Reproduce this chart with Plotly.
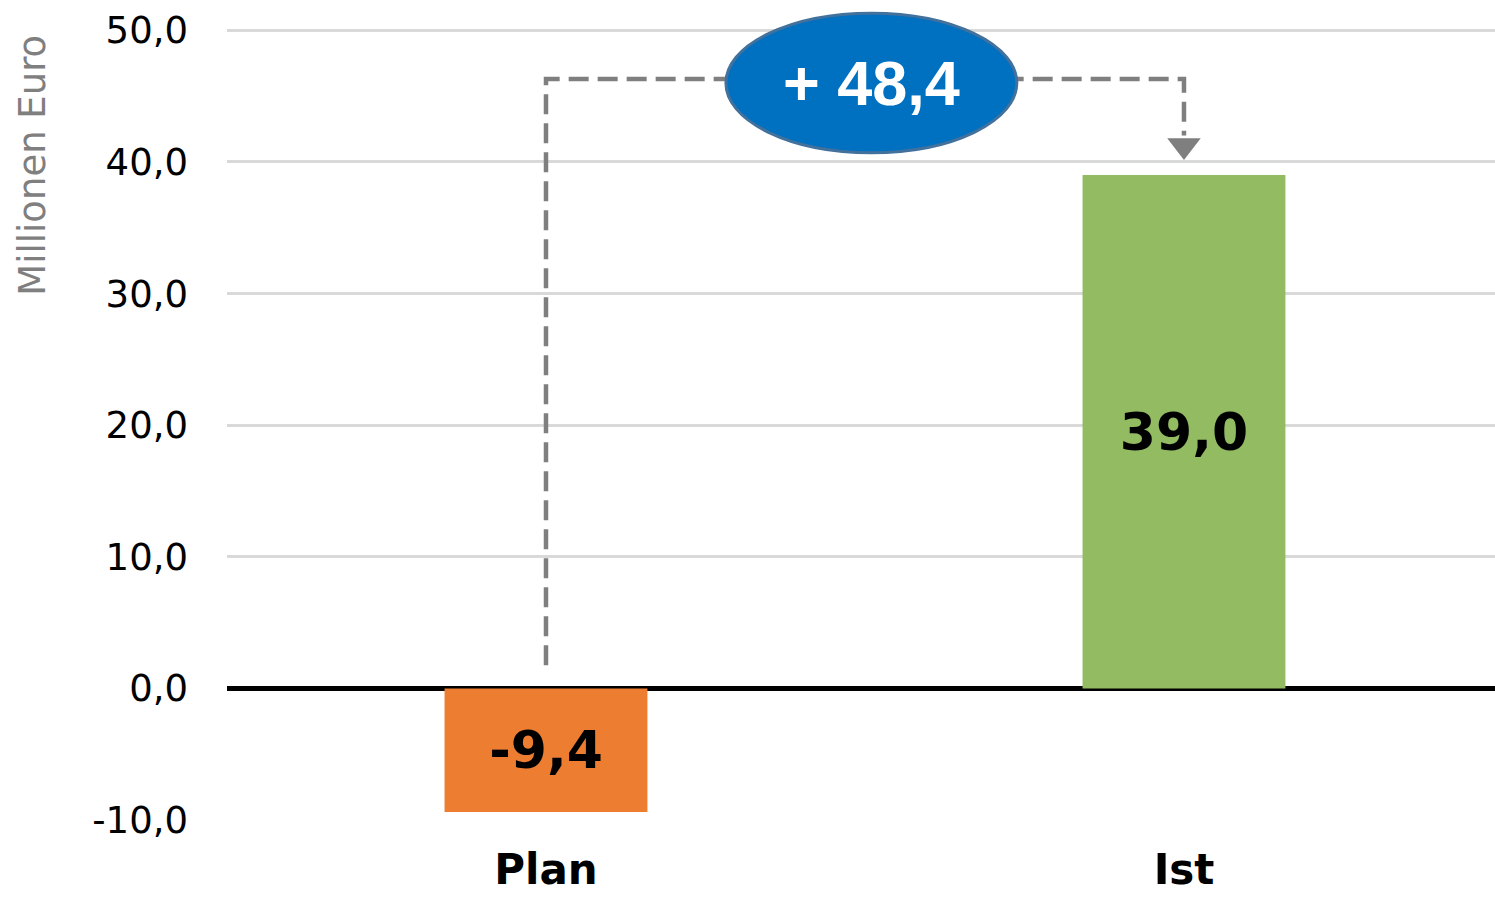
import plotly.graph_objects as go

categories = ["Plan", "Ist"]
values = [-9.4, 39.0]
bar_colors = ["#ED7D31", "#92BB62"]
y_tickvals = [-10, 0, 10, 20, 30, 40, 50]
y_ticktext = ["-10,0", "0,0", "10,0", "20,0", "30,0", "40,0", "50,0"]
y_title = "Millionen Euro"

def de(v):
    return f"{v:.1f}".replace(".", ",")

diff = values[1] - values[0]
bar_labels = [de(v) for v in values]
diff_label = f"+ {de(diff)}"

fig = go.Figure()
fig.add_trace(go.Bar(
    x=categories, y=values, width=0.318,
    marker=dict(color=bar_colors, line=dict(width=0)),
    text=bar_labels, textposition="inside", insidetextanchor="middle",
    textfont=dict(family="DejaVu Sans", size=52, color="black", weight="bold"),
    textangle=0, cliponaxis=False, showlegend=False, hoverinfo="skip",
))

# connector (dashed) from Plan to Ist
top = max(values) + 7.3
start = 1.75
fig.add_trace(go.Scatter(
    x=[categories[0], categories[0], categories[1], categories[1]],
    y=[start, top, top, values[1] + 3.0],
    mode="lines", line=dict(color="#7F7F7F", width=4.5, dash="20px,9px"),
    showlegend=False, hoverinfo="skip",
))
fig.add_trace(go.Scatter(
    x=[categories[1]], y=[values[1] + 2.25],
    mode="markers", marker=dict(symbol="triangle-down", size=29, color="#7F7F7F",
                                line=dict(width=0)),
    showlegend=False, hoverinfo="skip", cliponaxis=False,
))

# ellipse with difference
cx = 0.51
fig.add_shape(type="circle", xref="x", yref="y",
              x0=cx - 0.228, x1=cx + 0.228, y0=top - 5.6, y1=top + 5.0,
              fillcolor="#0070C0", line=dict(color="#41719C", width=3), layer="above")
fig.add_annotation(x=cx, y=top - 0.3, xref="x", yref="y", text=f"<b>{diff_label}</b>",
                   showarrow=False, xanchor="center", yanchor="middle",
                   font=dict(family="Liberation Sans, Arial", size=63, color="white"))

fig.add_annotation(x=-0.153, y=0.803, xref="paper", yref="paper", text=y_title, textangle=-90,
                   showarrow=False, xanchor="center", yanchor="middle",
                   font=dict(family="DejaVu Sans", size=37, color="#7F7F7F"))

fig.update_layout(
    width=1495, height=897,
    margin=dict(l=227, r=0, t=4, b=77),
    paper_bgcolor="white", plot_bgcolor="white",
    bargap=0.68,
    xaxis=dict(range=[-0.5, 1.4875], showgrid=False, showline=False, ticks="",
               automargin=False,
               tickfont=dict(family="DejaVu Sans", size=42, color="black", weight="bold"),
               ticklabelstandoff=21),
    yaxis=dict(range=[-10, 52], tickvals=y_tickvals, ticktext=y_ticktext,
               automargin=False,
               showgrid=True, gridcolor="#D9D9D9", gridwidth=3,
               zeroline=True, zerolinecolor="black", zerolinewidth=5,
               showline=False, ticks="",
               tickfont=dict(family="DejaVu Sans", size=37, color="black"),
               ticklabelstandoff=38),
)

fig.write_html("out.html")
